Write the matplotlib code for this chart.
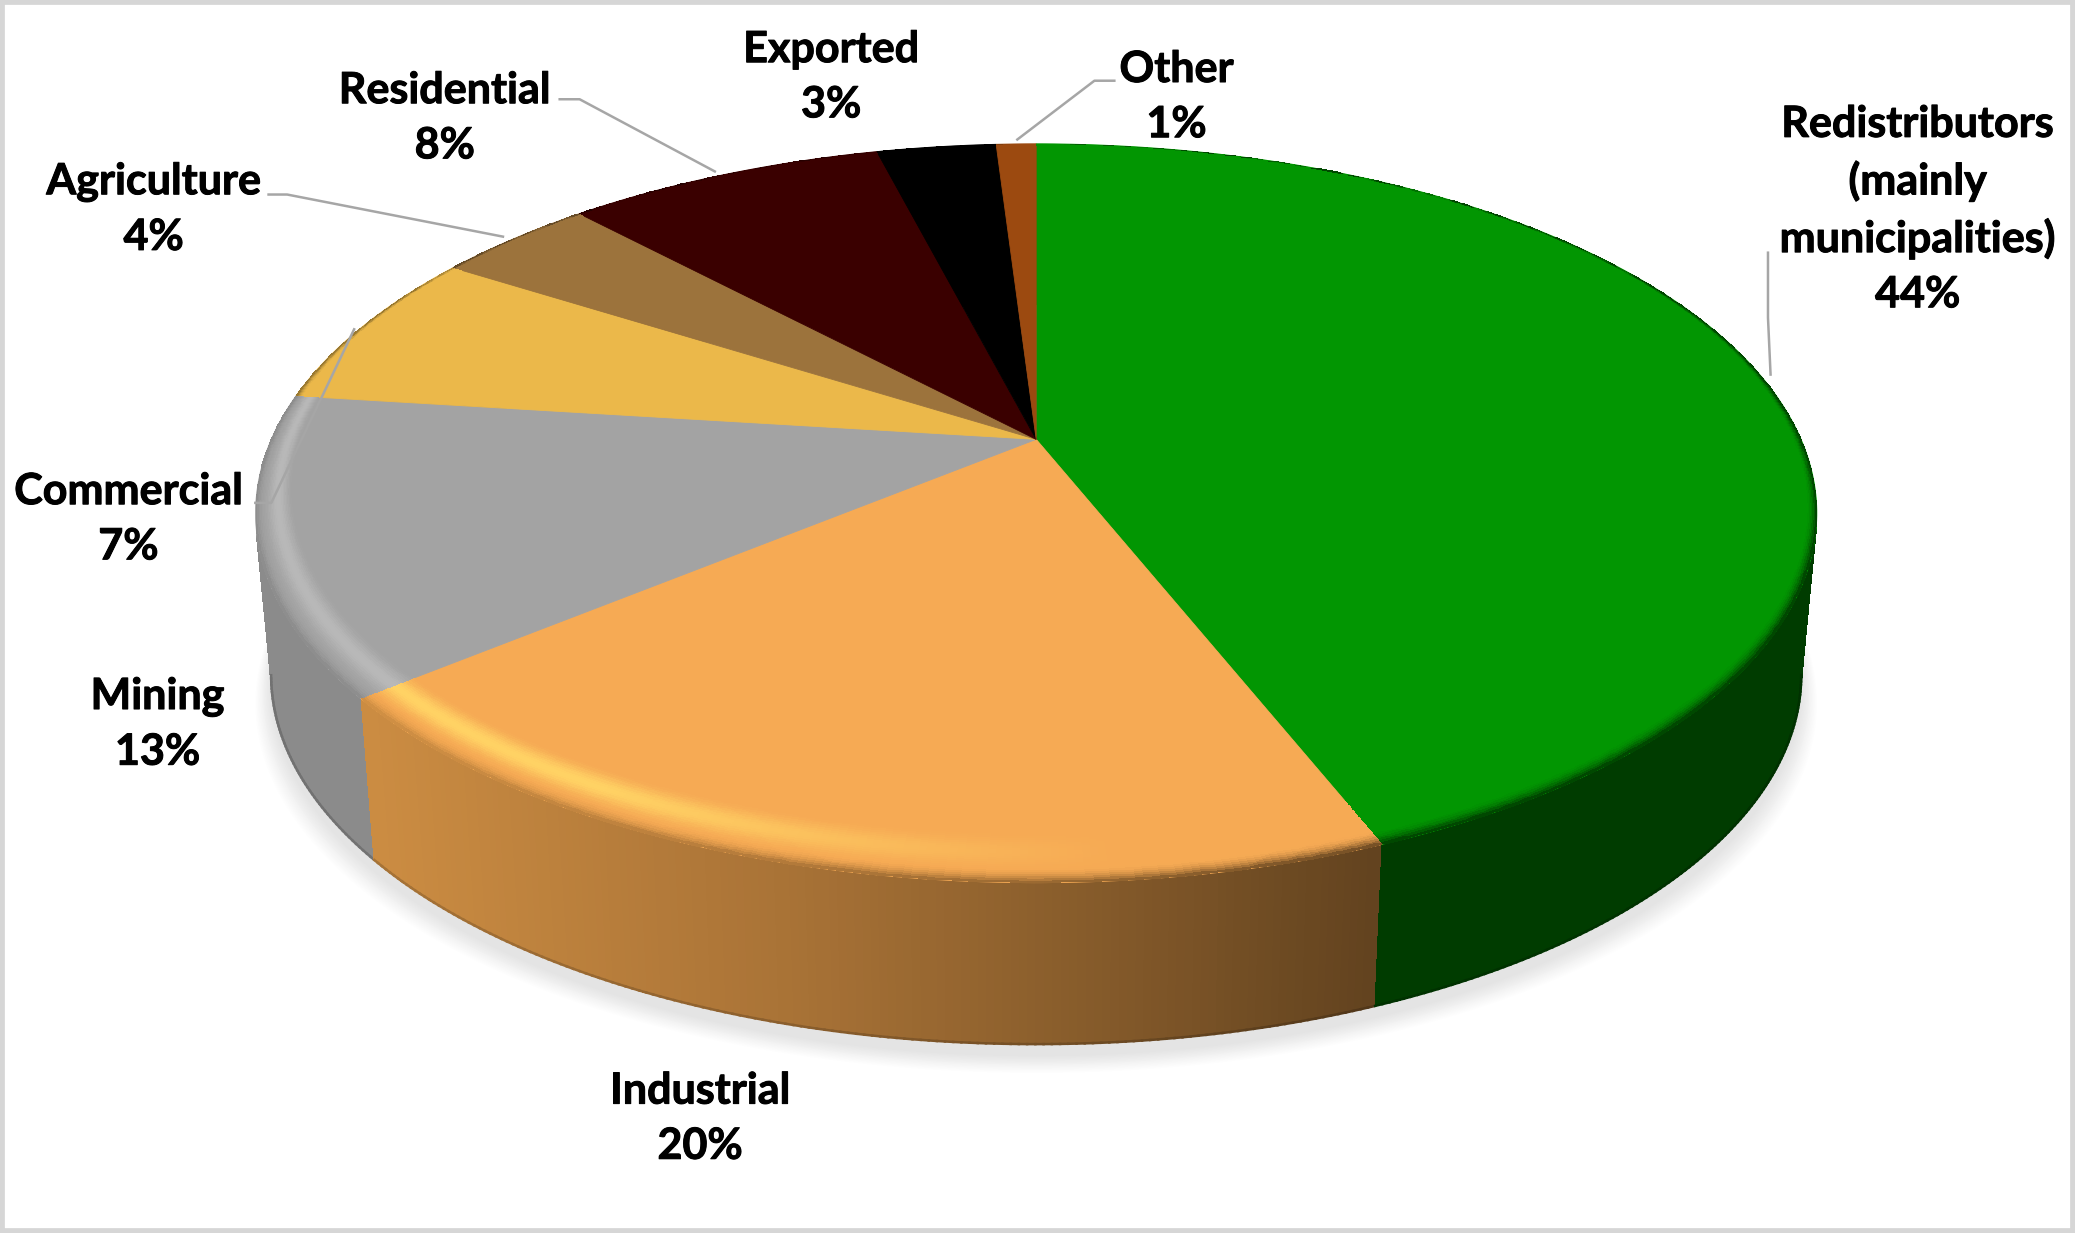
import numpy as np
import matplotlib
matplotlib.use('Agg')
import matplotlib.pyplot as plt
import matplotlib.patheffects as pe
from matplotlib.patches import Rectangle
from matplotlib.colors import to_rgb

categories = ['Redistributors\n(mainly\nmunicipalities)', 'Industrial', 'Mining', 'Commercial',
              'Agriculture', 'Residential', 'Exported', 'Other']
shares = [44, 20, 13, 7, 4, 8, 3, 1]
top_colors = ['#029602', '#f6aa54', '#a3a3a3', '#ebb84a', '#9c733c', '#3a0000', '#000000', '#9c4a10']

S = 2075 / 1568

# where each label sits (centre of block) and its leader line
label_pos = [(1449, 158), (529, 845), (119, 547), (97, 392), (116, 158), (336, 89), (628, 58), (889, 73)]
leaders = [[(1336, 190), (1336, 240), (1338, 284)], None, None,
           [(192, 380), (205, 380), (268, 248)],
           [(202, 147), (217, 147), (381, 179)],
           [(422, 75), (438, 75), (541, 130)],
           None,
           [(843, 61), (827, 61), (768, 106)]]

# perspective of the disc
cx, ay = 783 * S, 332 * S
a, b, k = 578 * S, 268 * S, 0.2
depth = 122 * S
shrink = 0.98


def project(r, theta):
    u, v = r * np.sin(theta), r * np.cos(theta)
    w = 1 + k * v
    return cx + a * u / w, ay - b * v / w


def lower(x, y):
    return cx + (x - cx) * shrink, y + depth


def wall_color(i, x):
    # side wall shading, x is a pixel column
    if i == 0:
        return np.array(to_rgb('#003c00'))
    if i == 1:
        stops = np.array([to_rgb('#cb8c42'), to_rgb('#a87236'), to_rgb('#8a5e2c'), to_rgb('#63431f')])
        pos = np.array([280, 600, 800, 1035]) * S
        return np.array([np.interp(x, pos, stops[:, c]) for c in range(3)])
    if i == 2:
        return np.array(to_rgb('#8b8b8b'))
    return np.array(to_rgb(top_colors[i])) * 0.6


def highlight(i, theta):
    deg = np.degrees(theta)
    if i == 1:
        return np.array(to_rgb('#ffd264')), np.clip((deg - 175) / 35, 0, 1)
    if i == 2:
        return np.array(to_rgb('#b8b8b8')), 1.0
    return np.array(to_rgb(top_colors[i])), 0.0


fig = plt.figure(figsize=(20.75, 12.33), dpi=100, facecolor='white')
ax = fig.add_axes([0, 0, 1, 1])
ax.set_xlim(0, 2075)
ax.set_ylim(1233, 0)
ax.axis('off')

ax.add_patch(Rectangle((0, 0), 2075, 1233, facecolor='white', edgecolor='#d6d6d6', linewidth=7, zorder=0))

edges = np.radians(360 * np.concatenate([[0], np.cumsum(shares)]) / np.sum(shares))

# soft shadow under the disc
full = np.linspace(0, 2 * np.pi, 361)
x0, y0 = lower(*project(1.0, full))
n_shadow = 14
for j in range(n_shadow):
    t = j / (n_shadow - 1)
    grow = 1 + 0.022 * (1 - t)
    shade = 1 - (1 - 0xe4 / 255) * t
    ax.fill(cx + (x0 - cx) * grow, y0 + 12 + 18 * (1 - t), color=(shade, shade, shade), lw=0, zorder=1)

# side wall, back slices first so the front ones cover them
for i in range(len(shares) - 1, -1, -1):
    th = np.linspace(edges[i], edges[i + 1], max(int(np.degrees(edges[i + 1] - edges[i]) * 2), 2))
    xt, yt = project(1.0, th)
    xb, yb = lower(xt, yt)
    X = np.array([xt, xb])
    Y = np.array([yt, yb])
    xm = (xt[:-1] + xt[1:]) / 2
    C = np.array([[wall_color(i, v) for v in xm]])
    ax.pcolormesh(X, Y, C, shading='flat', zorder=2)
    # bottom edge only where it is on the outline
    for q in range(len(th) - 1):
        if np.cos(th[q]) < -k and np.cos(th[q + 1]) < -k:
            ax.plot(xb[q:q + 2], yb[q:q + 2], color=C[0, q] * 0.82, lw=1.8, zorder=2)

# top surface
for i in range(len(shares)):
    th = np.linspace(edges[i], edges[i + 1], 200)
    xt, yt = project(1.0, th)
    ax.fill(np.r_[cx, xt], np.r_[ay, yt], color=top_colors[i], lw=0.6, zorder=3)

# bevel along the rim
for i in range(len(shares)):
    base = np.array(to_rgb(top_colors[i]))
    th = np.linspace(edges[i], edges[i + 1], max(int(np.degrees(edges[i + 1] - edges[i]) * 2), 2))
    steps = np.linspace(0, 1, 26)
    width = 0.085 * ((1 - np.cos(th)) / 2) ** 1.5 + 0.008
    X = np.zeros((len(steps), len(th)))
    Y = np.zeros((len(steps), len(th)))
    for m, s in enumerate(steps):
        X[m], Y[m] = project(1 - width * (1 - s), th)
    C = np.zeros((len(steps) - 1, len(th) - 1, 3))
    for q in range(len(th) - 1):
        mid = (th[q] + th[q + 1]) / 2
        hi, h = highlight(i, mid)
        xm, _ = project(1.0, mid)
        wc = wall_color(i, xm)
        for m in range(len(steps) - 1):
            s = (steps[m] + steps[m + 1]) / 2
            bump = np.sin(np.pi * np.clip(s / 0.8, 0, 1)) ** 2
            col = base + (hi - base) * h * bump
            mix = np.clip((s - 0.72) / 0.28, 0, 1)
            C[m, q] = col + (wc - col) * mix ** 2
    ax.pcolormesh(X, Y, C, shading='flat', zorder=4)

# leader lines
for pts in leaders:
    if pts is None:
        continue
    px = [p[0] * S for p in pts]
    py = [p[1] * S for p in pts]
    ax.plot(px, py, color='#a6a6a6', lw=1.8, solid_capstyle='butt', zorder=5)

# labels
for name, share, pos in zip(categories, shares, label_pos):
    ax.text(pos[0] * S, pos[1] * S, '%s\n%d%%' % (name, share), ha='center', va='center',
            family='Lato', fontweight='bold', fontsize=31, color='black', linespacing=1.46, zorder=6,
            path_effects=[pe.withStroke(linewidth=0.7, foreground='black')])

fig.savefig('out.png', dpi=100)
